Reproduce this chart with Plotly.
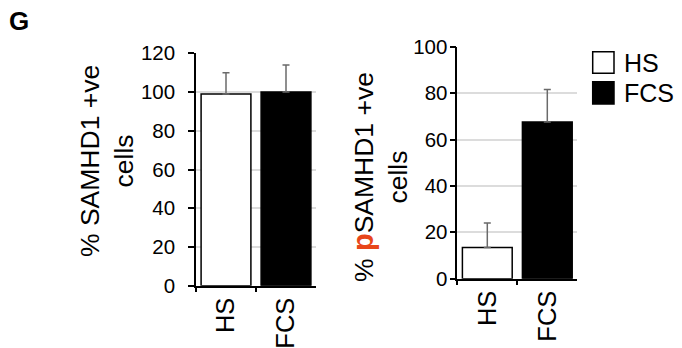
import plotly.graph_objects as go

W, H = 682, 348

categories = ["HS", "FCS"]
samhd1_values = [99, 100]
samhd1_errors = [11, 14]
psamhd1_values = [13.5, 67.5]
psamhd1_errors = [10.5, 14]
bar_colors = ["white", "black"]
left_ticks = [0, 20, 40, 60, 80, 100, 120]
right_ticks = [0, 20, 40, 60, 80, 100]

FONT = "Liberation Sans, Arial, Helvetica, sans-serif"


def px_x(x):
    return x / W


def px_y(y):
    return (H - y) / H


fig = go.Figure()

for vals, errs, xa, ya in [
    (samhd1_values, samhd1_errors, "x", "y"),
    (psamhd1_values, psamhd1_errors, "x2", "y2"),
]:
    fig.add_trace(go.Bar(
        x=categories, y=vals, width=0.83,
        marker=dict(color=bar_colors, line=dict(color="black", width=1.5)),
        error_y=dict(type="data", array=errs, arrayminus=[0] * len(errs),
                     symmetric=False, color="#6a6a6a", thickness=1.5, width=3.5),
        xaxis=xa, yaxis=ya, showlegend=False,
    ))

axis_common_y = dict(
    showline=True, linecolor="black", linewidth=1.5,
    ticks="outside", ticklen=6, tickwidth=1.5, tickcolor="black",
    showgrid=True, gridcolor="#dcdcdc", gridwidth=1.5,
    zeroline=False, tickfont=dict(family=FONT, size=20.5, color="black"),
    fixedrange=True, automargin=False,
)
axis_common_x = dict(
    showline=True, linecolor="black", linewidth=1.5,
    ticks="outside", ticklen=5, tickwidth=1.5, tickcolor="black",
    tickson="boundaries", tickangle=-90, showgrid=False,
    tickfont=dict(family=FONT, size=25.5, color="black"),
    ticklabelstandoff=0, automargin=False,
    range=[-0.5, 1.5], fixedrange=True,
)

fig.update_layout(
    width=W, height=H, autosize=False,
    margin=dict(l=0, r=0, t=0, b=0, autoexpand=False),
    paper_bgcolor="white", plot_bgcolor="white",
    bargap=0.17,
    xaxis=dict(domain=[px_x(196), px_x(316)], anchor="y", **axis_common_x),
    yaxis=dict(domain=[px_y(285.7), px_y(53.3)], anchor="x", range=[0, 120],
               tickvals=left_ticks, ticklabelstandoff=9, **axis_common_y),
    xaxis2=dict(domain=[px_x(457.3), px_x(577.3)], anchor="y2", **axis_common_x),
    yaxis2=dict(domain=[px_y(278.7), px_y(46.7)], anchor="x2", range=[0, 100],
                tickvals=right_ticks, ticklabelstandoff=-2, **axis_common_y),
)

ann_font = dict(family=FONT, size=26.5, color="black")
fig.add_annotation(
    text="% SAMHD1 +ve<br>cells", textangle=-90,
    xref="paper", yref="paper", x=px_x(107), y=px_y(161),
    xanchor="center", yanchor="middle", showarrow=False, font=ann_font,
)
fig.add_annotation(
    text='% <span style="color:#E8461B;font-size:29px"><b>p</b></span>SAMHD1 +ve<br>cells', textangle=-90,
    xref="paper", yref="paper", x=px_x(380), y=px_y(177),
    xanchor="center", yanchor="middle", showarrow=False, font=ann_font,
)
fig.add_annotation(
    text="<b>G</b>", xref="paper", yref="paper", x=px_x(7), y=px_y(21),
    xanchor="left", yanchor="middle", showarrow=False,
    font=dict(family=FONT, size=26, color="black"),
)

# legend
legend_items = [("HS", "white", 51.7, 73.3), ("FCS", "black", 81.7, 104)]
for label, col, y0, y1 in legend_items:
    fig.add_shape(type="rect", xref="paper", yref="paper",
                  x0=px_x(592.7), x1=px_x(614), y0=px_y(y1), y1=px_y(y0),
                  fillcolor=col, line=dict(color="black", width=1.5))
    fig.add_annotation(text=label, xref="paper", yref="paper",
                       x=px_x(622), y=px_y((y0 + y1) / 2),
                       xanchor="left", yanchor="middle", showarrow=False,
                       font=dict(family=FONT, size=25, color="black"))

fig.write_html("out.html", config={"displayModeBar": False})
